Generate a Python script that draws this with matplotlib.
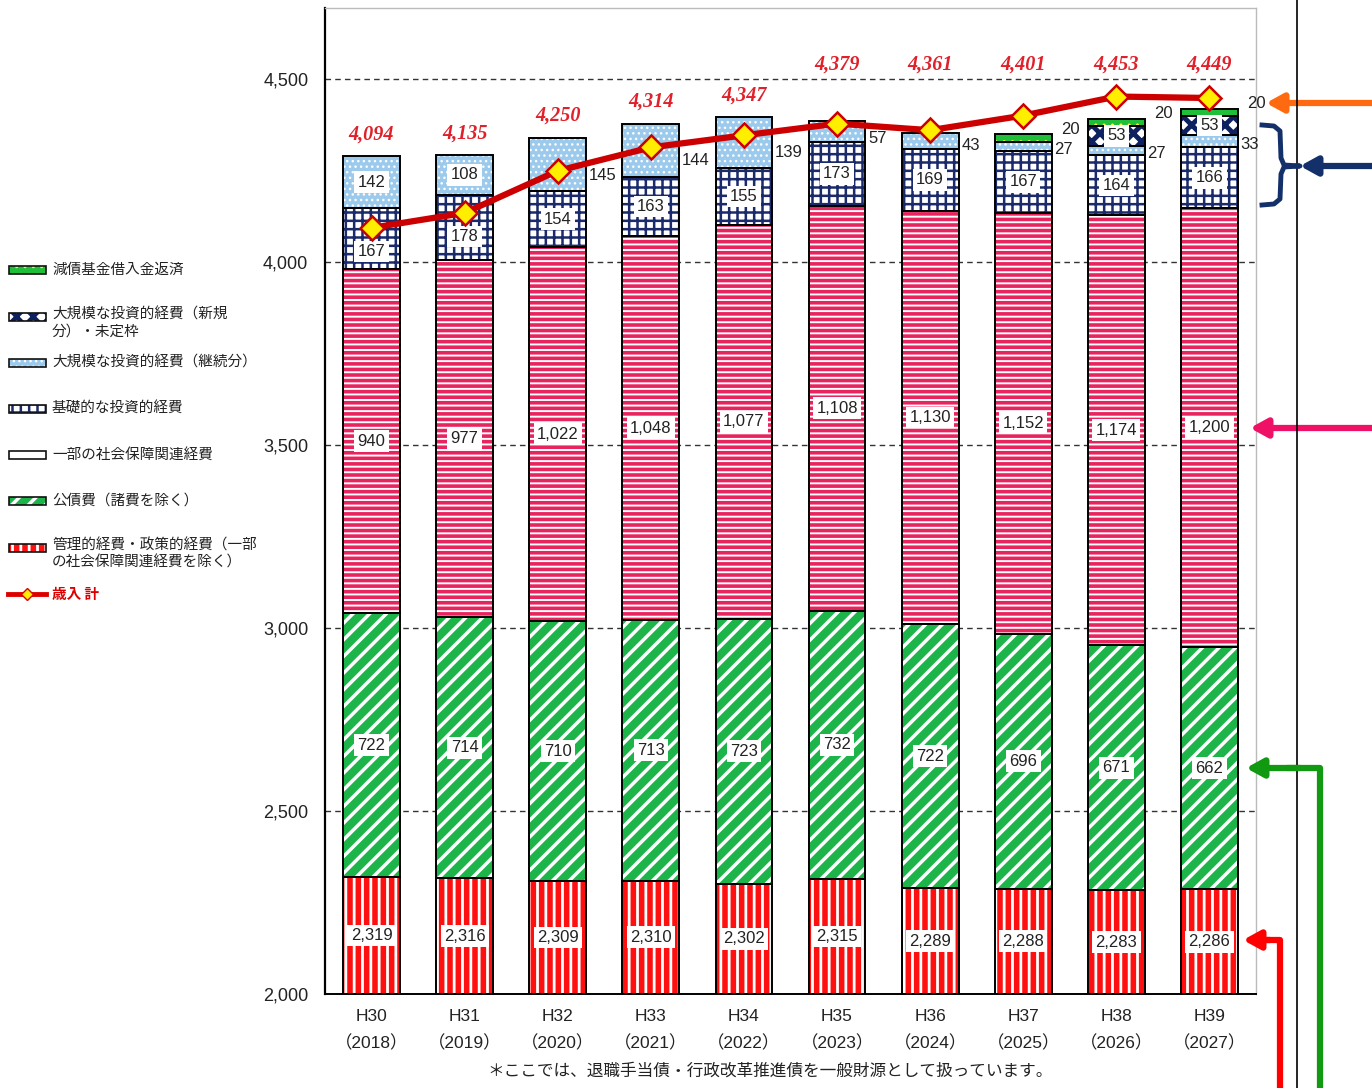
import numpy as np
import matplotlib
matplotlib.use("Agg")
import matplotlib.pyplot as plt
from matplotlib.patches import Rectangle
from matplotlib.lines import Line2D

plt.rcParams['font.family'] = ['Noto Sans CJK JP', 'DejaVu Sans']
NUM = ['Liberation Sans', 'Noto Sans CJK JP']

years = ['H30\n（2018）', 'H31\n（2019）', 'H32\n（2020）', 'H33\n（2021）', 'H34\n（2022）',
         'H35\n（2023）', 'H36\n（2024）', 'H37\n（2025）', 'H38\n（2026）', 'H39\n（2027）']

kanri = [2319, 2316, 2309, 2310, 2302, 2315, 2289, 2288, 2283, 2286]      # 管理的経費・政策的経費
kousai = [722, 714, 710, 713, 723, 732, 722, 696, 671, 662]             # 公債費
shakai = [940, 977, 1022, 1048, 1077, 1108, 1130, 1152, 1174, 1200]      # 一部の社会保障関連経費
kiso = [167, 178, 154, 163, 155, 173, 169, 167, 164, 166]               # 基礎的な投資的経費
keizoku = [142, 108, 145, 144, 139, 57, 43, 27, 27, 33]                 # 大規模(継続分)
shinki = [0, 0, 0, 0, 0, 0, 0, 0, 53, 53]                               # 大規模(新規分)・未定枠
gensai = [0, 0, 0, 0, 0, 0, 0, 20, 20, 20]                              # 減債基金借入金返済
revenue = [4094, 4135, 4250, 4314, 4347, 4379, 4361, 4401, 4453, 4449]  # 歳入 計

W, H = 1372, 1088
fig = plt.figure(figsize=(W / 100, H / 100), dpi=100)
ax = fig.add_axes([325 / W, 1 - 994 / H, (1256 - 325) / W, (994 - 8) / H])


def fx(px):
    return px / W


def fy(py):
    return 1 - py / H


def set_hlw(p, lw):
    if hasattr(p, 'set_hatch_linewidth'):
        p.set_hatch_linewidth(lw)


x = np.arange(len(years))
bw = 0.61

# series: values, face, hatch, hatch colour, hatch width
styles = [
    (kanri, '#ff1010', '||', 'white', 2.0),
    (kousai, '#1db44a', '//', 'white', 2.5),
    (shakai, 'white', '---', '#e8245f', 2.6),
    (kiso, 'white', '++', '#1b2a6b', 1.8),
    (keizoku, '#9ccaec', '...', 'white', 1.0),
    (shinki, 'white', 'xx', '#0d2060', 3.5),
    (gensai, '#1fbf3a', '..', '#ffee44', 1.0),
]

bottom = np.zeros(len(years))
bottoms = []
for vals, face, hatch, hc, hlw in styles:
    v = np.array(vals, dtype=float)
    m = v > 0
    bars = ax.bar(x[m], v[m], bw, bottom=bottom[m], color=face, edgecolor=hc,
                  linewidth=0, hatch=hatch, zorder=2)
    for p in bars:
        set_hlw(p, hlw)
    ax.bar(x[m], v[m], bw, bottom=bottom[m], fill=False, edgecolor='black',
           linewidth=1.4, zorder=3)
    bottoms.append(bottom.copy())
    bottom = bottom + v
top = bottom

box = dict(boxstyle='square,pad=0.2', fc='white', ec='none')
lab = dict(ha='center', va='center', fontsize=12, color='#222222', family=NUM, zorder=6)
out = dict(ha='left', va='center', fontsize=12, color='#222222', family=NUM, zorder=8)

for i in x:
    ax.text(i, (2000 + kanri[i]) / 2, f'{kanri[i]:,}', bbox=box, **lab)
    ax.text(i, bottoms[1][i] + kousai[i] / 2, f'{kousai[i]:,}', bbox=box, **lab)
    ax.text(i, bottoms[2][i] + shakai[i] / 2, f'{shakai[i]:,}', bbox=box, **lab)
    yk = bottoms[3][i] + kiso[i] / 2
    if abs(yk - revenue[i]) < 50:
        yk = revenue[i] - 65
    ax.text(i, yk, f'{kiso[i]:,}', bbox=box, **lab)
    if i < 2:
        ax.text(i, bottoms[4][i] + keizoku[i] / 2, f'{keizoku[i]}', bbox=box, **lab)
    else:
        yy = bottoms[4][i] + keizoku[i] * (0.3 if keizoku[i] > 100 else 0.2)
        ax.text(i + bw / 2 + 0.03, yy, f'{keizoku[i]}', **out)
    if shinki[i] > 0:
        ax.text(i, bottoms[5][i] + shinki[i] / 2, f'{shinki[i]}', bbox=box, **lab)
    if gensai[i] > 0:
        ax.text(i + bw / 2 + 0.1, top[i] + 14, f'{gensai[i]}', **out)

# 歳入 計
ax.plot(x, revenue, color='#cc0000', lw=4.5, marker='D', ms=12, mfc='#ffee00',
        mec='#cc0000', mew=1.8, zorder=7)
for i in x:
    yl = top[i] + 60 if i < 5 else 4540
    ax.text(i, yl, f'{revenue[i]:,}', ha='center', va='center', fontsize=14.5,
            family='Liberation Serif', fontweight='bold', style='italic',
            color='#e0202a', zorder=6)

ax.set_xlim(-0.5, 9.5)
ax.set_ylim(2000, 4695)
ax.set_yticks([2000, 2500, 3000, 3500, 4000, 4500])
ax.set_yticklabels(['2,000', '2,500', '3,000', '3,500', '4,000', '4,500'], fontsize=13,
                   color='#222222', family=NUM)
ax.set_xticks(x)
ax.set_xticklabels(years, fontsize=12.5, color='#222222', linespacing=1.75, family=NUM)
ax.tick_params(length=0)
ax.tick_params(axis='y', pad=12)
ax.tick_params(axis='x', pad=11)
ax.yaxis.grid(True, linestyle=(0, (4, 3)), color='#333333', lw=1)
ax.set_axisbelow(True)
ax.spines['left'].set_linewidth(1.6)
ax.spines['bottom'].set_linewidth(1.4)
for s in ['top', 'right']:
    ax.spines[s].set_color('#bbbbbb')
    ax.spines[s].set_linewidth(1)

# legend drawn by hand at left
leg = [
    (270, '減債基金借入金返済', '#1fbf3a', '..', '#ffee44', 1.0),
    (317, '大規模な投資的経費（新規\n分）・未定枠', 'white', 'xx', '#0d2060', 3.0),
    (363, '大規模な投資的経費（継続分）', '#9ccaec', '...', 'white', 1.0),
    (409, '基礎的な投資的経費', 'white', '++', '#1b2a6b', 1.8),
    (455, '一部の社会保障関連経費', 'white', None, 'white', 1.0),
    (501, '公債費（諸費を除く）', '#1db44a', '//', 'white', 2.5),
    (548, '管理的経費・政策的経費（一部\nの社会保障関連経費を除く）', '#ff1010', '||', 'white', 2.0),
]
for py, txt, face, hatch, hc, hlw in leg:
    r = Rectangle((fx(9), fy(py + 4)), fx(37), 8 / H, transform=fig.transFigure,
                  facecolor=face, edgecolor=hc, hatch=hatch, linewidth=0)
    set_hlw(r, hlw)
    fig.add_artist(r)
    fig.add_artist(Rectangle((fx(9), fy(py + 4)), fx(37), 8 / H, transform=fig.transFigure,
                             fill=False, edgecolor='#111111', linewidth=1.2))
    if '\n' in txt:
        fig.text(fx(52), fy(py - 10), txt, ha='left', va='top', fontsize=10.5,
                 color='#222222', linespacing=1.3)
    else:
        fig.text(fx(52), fy(py), txt, ha='left', va='center', fontsize=10.5, color='#222222')
fig.add_artist(Line2D([fx(8), fx(27), fx(46)], [fy(594)] * 3, color='#dd0000', lw=3.5,
                      marker='D', ms=6, mfc='#ffee00', mec='#dd0000', markevery=[1],
                      transform=fig.transFigure))
fig.text(fx(52), fy(594), '歳入 計', ha='left', va='center', fontsize=10.5, color='#dd0000',
         style='italic', fontweight='bold')

fig.text(fx(770), fy(1071), '＊ここでは、退職手当債・行政改革推進債を一般財源として扱っています。',
         ha='center', va='center', fontsize=12, color='#222222')

# right-hand markers
fig.add_artist(Line2D([fx(1297), fx(1297)], [0, 1], color='black', lw=1.2,
                      transform=fig.transFigure))


def arrow(x0, x1, py, col):
    ax.annotate('', xy=(fx(x1), fy(py)), xytext=(fx(x0), fy(py)),
                xycoords='figure fraction', textcoords='figure fraction',
                arrowprops=dict(arrowstyle='-|>,head_length=1.0,head_width=0.55',
                                color=col, lw=4.5, shrinkA=0, shrinkB=0))


arrow(1372, 1266, 103, '#ff6a10')
arrow(1372, 1300, 166, '#14306a')
arrow(1372, 1250, 428, '#ee1166')
brace_x = [1262, 1274, 1280, 1281, 1284, 1300, 1284, 1281, 1280, 1274, 1262]
brace_y = [125, 126, 131, 158, 165, 166, 167, 174, 199, 204, 205]
fig.add_artist(Line2D([fx(v) for v in brace_x], [fy(v) for v in brace_y], color='#14306a',
                      lw=3.5, solid_joinstyle='round', transform=fig.transFigure))
fig.add_artist(Line2D([fx(1320), fx(1320), fx(1290)], [0, fy(768), fy(768)], color='#119911',
                      lw=4.5, transform=fig.transFigure))
arrow(1300, 1246, 768, '#119911')
fig.add_artist(Line2D([fx(1280), fx(1280), fx(1262)], [0, fy(940), fy(940)], color='#ff0000',
                      lw=4.5, transform=fig.transFigure))
arrow(1270, 1243, 940, '#ff0000')

fig.savefig('out.png', dpi=100)
